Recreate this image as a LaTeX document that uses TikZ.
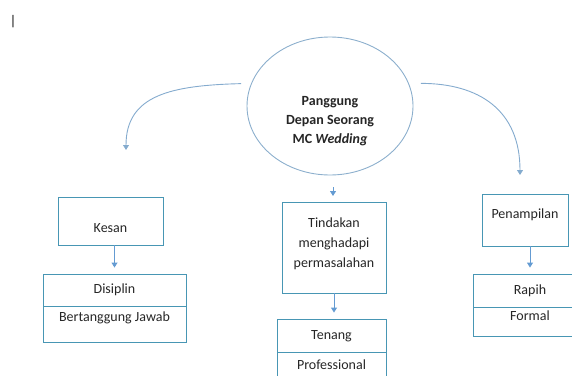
\documentclass[tikz,border=0pt]{standalone}
\usepackage{fontspec}
\setmainfont{Carlito}
\usetikzlibrary{shapes.geometric,arrows.meta,positioning}
\definecolor{boxline}{RGB}{72,150,180}
\definecolor{ringline}{RGB}{140,175,205}
\definecolor{linkblue}{RGB}{100,155,210}
\definecolor{inkgray}{RGB}{38,38,38}
\tikzset{
  card/.style={draw=boxline, line width=0.9pt, rectangle, inner sep=3pt, text=inkgray,
    text height=10pt, text depth=3pt},
  drop/.style={text height=#1},
  lift/.style={text depth=#1},
  ring/.style={draw=ringline, line width=0.9pt, ellipse, inner sep=0pt,
    minimum width=166pt, minimum height=138pt},
  link/.style={draw=linkblue, line width=0.9pt, -{Triangle[width=6pt,length=5pt]}},
  curve/.style={draw=ringline!80!linkblue, line width=0.9pt, -{Triangle[width=6pt,length=5pt]}}
}
\begin{document}
\begin{tikzpicture}[x=1pt,y=-1pt,font=\fontsize{14}{20}\selectfont]
  \useasboundingbox (0,0) rectangle (572,375);
  \clip (0,0) rectangle (572,375);
  \node[font=\fontsize{14}{14}\selectfont, inner sep=0pt] (C) at (13,22) {|};
  \node[ring] (M) at (330,106) {};
  \node[align=center, font=\fontsize{14}{19}\selectfont\bfseries, text=inkgray] (Mt) at (330,121) {Panggung\\Depan Seorang\\MC \textit{Wedding}};
  \node[card, minimum width=105pt, minimum height=48pt, drop=26pt] (K) at (110.5,221) {Kesan};
  \node[card, minimum width=104pt, minimum height=91pt, align=center, text height=, text depth=] (T) at (334,247.5) {Tindakan\\menghadapi\\permasalahan\\[-11pt]\mbox{}};
  \node[card, minimum width=86pt, minimum height=52pt, lift=13pt] (P) at (525,220) {Penampilan};
  \node[card, minimum width=143pt, minimum height=32pt] (K1) at (114.5,290) {Disiplin};
  \node[card, minimum width=143pt, minimum height=36pt, lift=17pt, below=0pt of K1] (K2) {Bertanggung Jawab};
  \node[card, minimum width=109pt, minimum height=33pt] (T1) at (331.5,335.5) {Tenang};
  \node[card, minimum width=109pt, minimum height=26pt, below=0pt of T1] (T2) {Professional};
  \node[card, minimum width=114pt, minimum height=33pt] (P1) at (530,290.5) {Rapih};
  \node[card, minimum width=114pt, minimum height=26pt, lift=13pt, below=0pt of P1] (P2) {Formal};
  \coordinate (Lt) at (126,150);
  \coordinate (Rt) at (520,175);
  \coordinate (Ma) at (333,187);
  \coordinate (Mb) at (333,196);
  \draw[curve, shorten <=10pt] (M.164) .. controls +(-80,2) and +(0,-55) .. (Lt);
  \draw[curve, shorten <=12pt] (M.16) .. controls +(70,0) and +(0,-65) .. (Rt);
  \draw[link] (Ma) -- (Mb);
  \draw[link, shorten >=6pt] (K1.north |- K.south) -- (K1.north);
  \draw[link, shorten >=6pt] (T.south) -- (T.south |- T1.north);
  \draw[link, shorten >=6pt] (P1.north |- P.south) -- (P1.north);
\end{tikzpicture}
\end{document}
